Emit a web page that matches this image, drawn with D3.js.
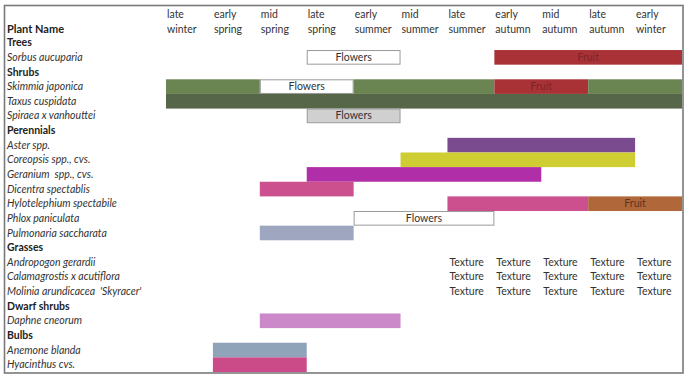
<!DOCTYPE html>
<html><head><meta charset="utf-8">
<script src="https://cdn.jsdelivr.net/npm/d3@7"></script>
<style>body{margin:0;background:#fff}svg{display:block}</style>
</head><body><div id="chart"></div>
<script>
const seasonTop = ["late","early","mid","late","early","mid","late","early","mid","late","early"];
const seasonBottom = ["winter","spring","spring","spring","summer","summer","summer","autumn","autumn","autumn","winter"];
const rowNames = ["Trees","Sorbus aucuparia","Shrubs","Skimmia japonica","Taxus cuspidata","Spiraea x vanhouttei","Perennials","Aster spp.","Coreopsis spp., cvs.","Geranium  spp., cvs.","Dicentra spectablis","Hylotelephium spectabile","Phlox paniculata","Pulmonaria saccharata","Grasses","Andropogon gerardii","Calamagrostis x acutiflora","Molinia arundicacea  'Skyracer'","Dwarf shrubs","Daphne cneorum","Bulbs","Anemone blanda","Hyacinthus cvs."];
const groupRows = ["Trees","Shrubs","Perennials","Grasses","Dwarf shrubs","Bulbs"];
// [plant, first season index, last season index, kind, label]
const segPlant = ["Sorbus aucuparia","Sorbus aucuparia","Skimmia japonica","Skimmia japonica","Skimmia japonica","Skimmia japonica","Skimmia japonica","Taxus cuspidata","Spiraea x vanhouttei","Aster spp.","Coreopsis spp., cvs.","Geranium  spp., cvs.","Dicentra spectablis","Hylotelephium spectabile","Hylotelephium spectabile","Phlox paniculata","Pulmonaria saccharata","Daphne cneorum","Anemone blanda","Hyacinthus cvs."];
const segStart = [3,7,0,2,4,7,9,0,3,6,5,3,2,6,9,4,2,2,1,1];
const segEnd   = [4,10,1,3,6,8,10,10,4,9,9,7,3,8,10,6,3,4,2,2];
const segKind  = ["flowerBox","fruitRed","skimmia","flowerBox","skimmia","fruitRed","skimmia","taxus","flowerGray","aster","coreopsis","geranium","pink","pink","fruitBrown","flowerBox","pulmonaria","daphne","anemone","hyacinth"];
const segLabel = ["Flowers","Fruit","","Flowers","","Fruit","","","Flowers","","","","","","Fruit","Flowers","","","",""];
const texturePlants = ["Andropogon gerardii","Calamagrostis x acutiflora","Molinia arundicacea  'Skyracer'"];
const textureSeasons = [6,7,8,9,10];
const textureLabel = "Texture";

const kindFill = {flowerBox:"#ffffff",flowerGray:"#d0d0d0",fruitRed:"#a93236",skimmia:"#6a8551",taxus:"#566649",aster:"#7b4b8f",coreopsis:"#cece33",geranium:"#b02ea8",pink:"#cc4f8e",fruitBrown:"#b0683b",pulmonaria:"#9ea7bf",daphne:"#cc89c9",anemone:"#8fa3b9",hyacinth:"#cb4b88"};
const kindStroke = {flowerBox:"#9a9a9a",flowerGray:"#9a9a9a"};
const kindText = {flowerBox:"#333",flowerGray:"#333",fruitRed:"#7e2428",fruitBrown:"#5e3420"};

const W=688,H=379;
const svg=d3.select("#chart").append("svg").attr("width",W).attr("height",H);
const font="Lato, 'Open Sans', sans-serif";
const x=d3.scaleBand().domain(d3.range(seasonTop.length)).range([166,682]);
const y=d3.scaleBand().domain(rowNames).range([35.4,372]);

const segs=segPlant.map((p,i)=>({plant:p,s:segStart[i],e:segEnd[i],kind:segKind[i],label:segLabel[i]}));
const g=svg.append("g");
g.selectAll("rect.seg").data(segs).join("rect").attr("class","seg")
 .attr("x",d=>x(d.s)+(kindStroke[d.kind]?0.5:0))
 .attr("y",d=>y(d.plant)+(kindStroke[d.kind]?0.5:0))
 .attr("width",d=>x(d.e)+x.bandwidth()-x(d.s)-(kindStroke[d.kind]?1:0))
 .attr("height",d=>y.bandwidth()-(kindStroke[d.kind]?1:0))
 .attr("fill",d=>kindFill[d.kind])
 .attr("stroke",d=>kindStroke[d.kind]||"none").attr("stroke-width",1);
g.selectAll("text.seg").data(segs.filter(d=>d.label)).join("text").attr("class","seg")
 .attr("x",d=>(x(d.s)+x(d.e)+x.bandwidth())/2).attr("y",d=>y(d.plant)+y.bandwidth()/2+3.6)
 .attr("text-anchor","middle").attr("font-family",font).attr("font-size",10.5)
 .attr("fill",d=>kindText[d.kind]).text(d=>d.label);

// texture cells
const tex=[];texturePlants.forEach(p=>textureSeasons.forEach(s=>tex.push({p,s})));
g.selectAll("text.tex").data(tex).join("text").attr("class","tex")
 .attr("x",d=>x(d.s)+2).attr("y",d=>y(d.p)+y.bandwidth()/2+3.6)
 .attr("font-family",font).attr("font-size",10.5).attr("fill","#333").text(textureLabel);

// header
const hdr=svg.append("g");
hdr.selectAll("text.t").data(seasonTop).join("text").attr("class","t")
 .attr("x",(d,i)=>x(i)+1).attr("y",17.5).attr("font-family",font).attr("font-size",10.5).attr("fill","#333").text(d=>d);
hdr.selectAll("text.b").data(seasonBottom).join("text").attr("class","b")
 .attr("x",(d,i)=>x(i)+1).attr("y",33).attr("font-family",font).attr("font-size",10.5).attr("fill","#333").text(d=>d);
hdr.append("text").attr("x",7).attr("y",33).attr("font-family",font).attr("font-size",11).attr("font-weight","bold").attr("fill","#222").text("Plant Name");

// row labels
svg.append("g").selectAll("text").data(rowNames).join("text")
 .attr("x",7).attr("y",d=>y(d)+y.bandwidth()/2+3.6)
 .attr("font-family",font).attr("font-size",10.5)
 .attr("font-style",d=>groupRows.includes(d)?"normal":"italic")
 .attr("font-weight",d=>groupRows.includes(d)?"bold":"normal")
 .attr("fill",d=>groupRows.includes(d)?"#222":"#333")
 .attr("xml:space","preserve").style("white-space","pre").text(d=>d);

// outer border
svg.append("rect").attr("x",4.5).attr("y",5.5).attr("width",678.5).attr("height",367.5)
 .attr("fill","none").attr("stroke","#7a7a7a").attr("stroke-width",1.6);
</script></body></html>
